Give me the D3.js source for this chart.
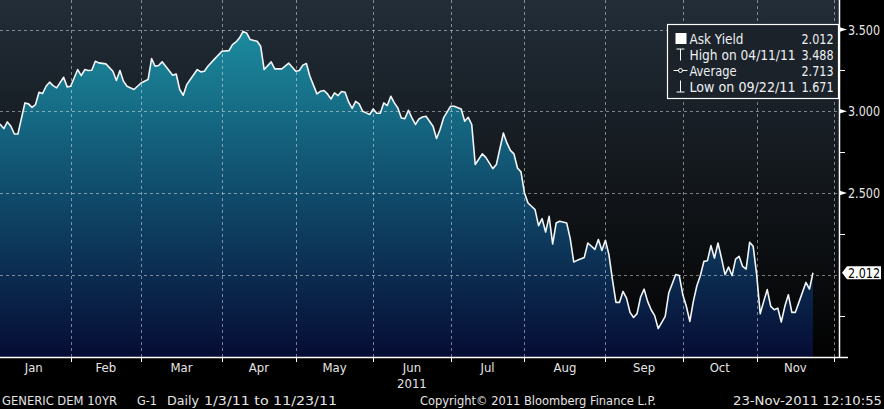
<!DOCTYPE html>
<html>
<head>
<meta charset="utf-8">
<script src="https://cdn.jsdelivr.net/npm/d3@7/dist/d3.min.js"></script>
<style>
  body { margin: 0; background: #000; }
  svg { display: block; }
</style>
</head>
<body>
<div id="chart"></div>
<script>
// trading day number since 1/3/11 (weekdays), and the ask yield
const day_index = [0,1,2,3,4,5,6,8,9,10,11,12,13,14,15,16,17,19,20,21,23,24,25,26,27,28,29,31,33,34,35,36,37,39,41,43,44,45,46,47,48,50,51,52,53,54,55,57,58,59,60,62,64,66,67,68,69,70,71,72,74,75,76,78,79,81,83,85,86,87,88,89,91,92,93,94,95,96,97,98,99,100,101,102,103,104,105,106,107,108,109,110,111,112,113,114,115,116,117,118,119,120,121,122,124,125,126,127,129,130,132,133,134,135,136,138,139,141,142,144,145,146,147,148,149,150,151,153,154,155,156,157,158,159,160,162,163,164,165,167,168,170,171,172,173,174,175,176,177,178,179,180,181,182,183,184,185,186,187,188,190,191,193,194,195,196,197,198,199,200,201,202,203,204,205,206,207,208,209,210,211,212,213,214,215,216,217,218,219,220,221,222,223,224,225,226,227,228,230,231,232];
const ask_yield = [2.930,2.919,2.894,2.935,2.908,2.861,2.861,3.051,3.045,3.024,3.041,3.116,3.108,3.153,3.178,3.157,3.143,3.208,3.149,3.153,3.255,3.218,3.255,3.249,3.251,3.306,3.296,3.290,3.245,3.188,3.249,3.184,3.153,3.133,3.173,3.194,3.322,3.275,3.280,3.302,3.275,3.220,3.228,3.133,3.098,3.163,3.194,3.255,3.241,3.245,3.275,3.322,3.367,3.371,3.408,3.424,3.449,3.488,3.479,3.439,3.428,3.398,3.255,3.302,3.259,3.259,3.294,3.245,3.249,3.282,3.292,3.214,3.106,3.122,3.127,3.106,3.075,3.112,3.096,3.121,3.116,3.057,3.017,3.061,3.045,3.000,2.990,2.980,3.014,2.988,2.988,3.051,3.035,3.092,3.051,3.020,2.959,2.955,3.006,2.959,2.919,2.953,2.965,2.969,2.908,2.833,2.888,2.959,3.031,3.031,3.014,2.939,2.963,2.919,2.674,2.739,2.718,2.649,2.674,2.867,2.806,2.761,2.739,2.653,2.629,2.500,2.439,2.398,2.300,2.343,2.261,2.357,2.188,2.316,2.327,2.316,2.221,2.078,2.088,2.106,2.194,2.155,2.215,2.149,2.211,2.123,1.970,1.831,1.831,1.898,1.857,1.770,1.739,1.762,1.864,1.912,1.837,1.786,1.750,1.671,1.745,1.888,2.001,1.995,1.878,1.807,1.715,1.837,1.933,1.995,2.082,2.086,2.178,2.102,2.194,2.102,2.001,2.047,1.995,2.096,2.113,2.051,2.035,2.198,2.174,2.001,1.762,1.837,1.909,1.807,1.786,1.796,1.711,1.807,1.878,1.770,1.770,1.831,1.953,1.912,2.012];

// month labels and the trading day each month starts on (last one = Dec 1)
const month_labels = ["Jan","Feb","Mar","Apr","May","Jun","Jul","Aug","Sep","Oct","Nov"];
const month_start = [0,21,41,64,85,107,129,150,173,195,216,238];
const y_major = [2.0, 2.5, 3.0, 3.5];
const y_minor = [1.75, 2.25, 2.75, 3.25];
const y_labels = ["2.500", "3.000", "3.500"];
const y_label_values = [2.5, 3.0, 3.5];

const legend_rows = [
	{ sym: "square", label: "Ask Yield", value: "2.012", w: 54 },
	{ sym: "high", label: "High on 04/11/11", value: "3.488", w: 106 },
	{ sym: "avg", label: "Average", value: "2.713", w: 47 },
	{ sym: "low", label: "Low on 09/22/11", value: "1.671", w: 106 }
];
const last_value = 2.012;

const width = 884, height = 409;
const plot_right = 839, plot_bottom = 357;
const font = "'DejaVu Sans Condensed', 'Liberation Sans Narrow', sans-serif";
const text_color = "#e4e4e4";

const data = day_index.map((d, i) => ({ day: d, v: ask_yield[i] }));

const x = d3.scaleLinear().domain([0.91, 239.4]).range([0, plot_right]);
const y = d3.scaleLinear().domain([1.5, 3.5]).range([356.5, 29.5]);

const svg = d3.select("#chart").append("svg")
	.attr("width", width)
	.attr("height", height)
	.style("font-family", font);

const defs = svg.append("defs");

let bg_grad = defs.append("linearGradient")
	.attr("id", "bg_grad")
	.attr("x1", 0).attr("y1", 0).attr("x2", 0).attr("y2", 1);
bg_grad.append("stop").attr("offset", "0%").attr("stop-color", "#222d38");
bg_grad.append("stop").attr("offset", "55%").attr("stop-color", "#111519");
bg_grad.append("stop").attr("offset", "100%").attr("stop-color", "#020202");

let area_grad = defs.append("linearGradient")
	.attr("id", "area_grad")
	.attr("gradientUnits", "userSpaceOnUse")
	.attr("x1", 0).attr("y1", 25).attr("x2", 0).attr("y2", plot_bottom);
area_grad.append("stop").attr("offset", "0%").attr("stop-color", "#1c8d9f");
area_grad.append("stop").attr("offset", "50%").attr("stop-color", "#104c6c");
area_grad.append("stop").attr("offset", "100%").attr("stop-color", "#060c34");

defs.append("clipPath").attr("id", "plot_clip")
	.append("rect")
	.attr("x", 0).attr("y", 0)
	.attr("width", plot_right).attr("height", plot_bottom);

// plot background
svg.append("rect")
	.attr("x", 0).attr("y", 0)
	.attr("width", plot_right).attr("height", plot_bottom)
	.attr("fill", "url(#bg_grad)");

const plot = svg.append("g").attr("clip-path", "url(#plot_clip)");

plot.append("path")
	.datum(data)
	.attr("fill", "url(#area_grad)")
	.attr("d", d3.area()
		.x(d => x(d.day))
		.y0(plot_bottom)
		.y1(d => y(d.v)));

// dashed grid
plot.selectAll(".hgrid")
	.data(y_major)
	.join("line")
	.attr("x1", 0).attr("x2", plot_right)
	.attr("y1", d => Math.round(y(d)) + 0.5)
	.attr("y2", d => Math.round(y(d)) + 0.5)
	.attr("stroke", "#ffffff")
	.attr("stroke-opacity", 0.45)
	.attr("stroke-dasharray", "3,3");

plot.selectAll(".vgrid")
	.data(month_start.slice(1))
	.join("line")
	.attr("x1", d => Math.round(x(d)) + 0.5)
	.attr("x2", d => Math.round(x(d)) + 0.5)
	.attr("y1", 0).attr("y2", plot_bottom)
	.attr("stroke", "#ffffff")
	.attr("stroke-opacity", 0.45)
	.attr("stroke-dasharray", "3,3");

plot.append("path")
	.datum(data)
	.attr("fill", "none")
	.attr("stroke", "#f2f6f8")
	.attr("stroke-width", 1.6)
	.attr("stroke-linejoin", "round")
	.attr("d", d3.line()
		.x(d => x(d.day))
		.y(d => y(d.v)));

// axes lines
svg.append("line")
	.attr("x1", 0).attr("x2", plot_right + 9)
	.attr("y1", plot_bottom + 0.5).attr("y2", plot_bottom + 0.5)
	.attr("stroke", "#fff").attr("stroke-width", 1.5);
svg.append("line")
	.attr("x1", plot_right + 0.5).attr("x2", plot_right + 0.5)
	.attr("y1", 0).attr("y2", plot_bottom + 1)
	.attr("stroke", "#fff").attr("stroke-width", 1.5);

// bottom ticks + month labels
svg.selectAll(".xtick")
	.data(month_start.slice(1))
	.join("line")
	.attr("x1", d => Math.round(x(d)) + 0.5)
	.attr("x2", d => Math.round(x(d)) + 0.5)
	.attr("y1", plot_bottom).attr("y2", plot_bottom + 5)
	.attr("stroke", "#fff");

svg.selectAll(".month")
	.data(month_labels)
	.join("text")
	.attr("x", (d, i) => x((month_start[i] + month_start[i + 1]) / 2))
	.attr("y", 372)
	.attr("text-anchor", "middle")
	.attr("fill", text_color)
	.attr("font-size", 13)
	.text(d => d);

svg.append("text")
	.attr("x", x((month_start[5] + month_start[6]) / 2))
	.attr("y", 388)
	.attr("text-anchor", "middle")
	.attr("fill", text_color)
	.attr("font-size", 13)
	.text("2011");

// right axis ticks
svg.selectAll(".ymajor")
	.data(y_label_values)
	.join("path")
	.attr("d", d => {
		const ty = y(d);
		return `M${plot_right},${ty - 2.5} L${plot_right + 8},${ty} L${plot_right},${ty + 2.5} Z`;
	})
	.attr("fill", "#fff");

svg.selectAll(".yminor")
	.data(y_minor)
	.join("line")
	.attr("x1", plot_right).attr("x2", plot_right + 6)
	.attr("y1", d => Math.round(y(d)) + 0.5)
	.attr("y2", d => Math.round(y(d)) + 0.5)
	.attr("stroke", "#fff");

svg.selectAll(".ylabel")
	.data(y_labels)
	.join("text")
	.attr("x", plot_right + 9)
	.attr("y", (d, i) => y(y_label_values[i]))
	.attr("dy", "0.36em")
	.attr("fill", text_color)
	.attr("font-size", 14)
	.attr("textLength", 32)
	.attr("lengthAdjust", "spacingAndGlyphs")
	.text(d => d);

// last value marker
const ly = y(last_value);
svg.append("path")
	.attr("d", `M${plot_right + 3},${ly} L${plot_right + 8},${ly - 6.5} L${plot_right + 42},${ly - 6.5} L${plot_right + 42},${ly + 6.5} L${plot_right + 8},${ly + 6.5} Z`)
	.attr("fill", "#fff");
svg.append("text")
	.attr("x", plot_right + 9)
	.attr("y", ly)
	.attr("dy", "0.36em")
	.attr("fill", "#000")
	.attr("font-size", 14)
	.attr("textLength", 32)
	.attr("lengthAdjust", "spacingAndGlyphs")
	.text(last_value.toFixed(3));

// legend
const lg = svg.append("g").attr("transform", "translate(667.5,24.5)");
lg.append("rect")
	.attr("width", 171).attr("height", 74)
	.attr("fill", "#1b222a")
	.attr("stroke", "#fff")
	.attr("stroke-width", 1.2);

legend_rows.forEach((r, i) => {
	const cy = 14 + i * 16;
	const g = lg.append("g").attr("transform", `translate(0,${cy})`);
	if (r.sym === "square") {
		g.append("rect").attr("x", 8).attr("y", -5.5).attr("width", 11).attr("height", 11).attr("fill", "#fff");
	} else if (r.sym === "high") {
		g.append("path").attr("d", "M9,-5.5 H17 M13,-5.5 V6").attr("stroke", "#fff").attr("fill", "none");
	} else if (r.sym === "avg") {
		g.append("path").attr("d", "M6,0 H20").attr("stroke", "#fff").attr("fill", "none");
		g.append("circle").attr("cx", 13).attr("cy", 0).attr("r", 2).attr("fill", "#1b222a").attr("stroke", "#fff");
	} else {
		g.append("path").attr("d", "M13,-6 V5.5 M9,5.5 H17").attr("stroke", "#fff").attr("fill", "none");
	}
	g.append("text").attr("x", 22).attr("dy", "0.36em")
		.attr("fill", "#eef0f2").attr("font-size", 14)
		.attr("textLength", r.w).attr("lengthAdjust", "spacingAndGlyphs")
		.text(r.label);
	g.append("text").attr("x", 166).attr("dy", "0.36em")
		.attr("text-anchor", "end")
		.attr("fill", "#eef0f2").attr("font-size", 14)
		.attr("textLength", 32).attr("lengthAdjust", "spacingAndGlyphs")
		.text(r.value);
});

// footer
const footer = [
	{ x: 2, w: 115, t: "GENERIC DEM 10YR" },
	{ x: 137, w: 20, t: "G-1" },
	{ x: 167, w: 32, t: "Daily" },
	{ x: 204, w: 133, t: "1/3/11 to 11/23/11" },
	{ x: 420, w: 236, t: "Copyright\u00a9 2011 Bloomberg Finance L.P." },
	{ x: 733, w: 149, t: "23-Nov-2011 12:10:55" }
];
svg.selectAll(".footer")
	.data(footer)
	.join("text")
	.attr("x", d => d.x)
	.attr("y", 405)
	.attr("fill", text_color)
	.attr("font-size", 13)
	.attr("textLength", d => d.w)
	.attr("lengthAdjust", "spacingAndGlyphs")
	.text(d => d.t);
</script>
</body>
</html>
